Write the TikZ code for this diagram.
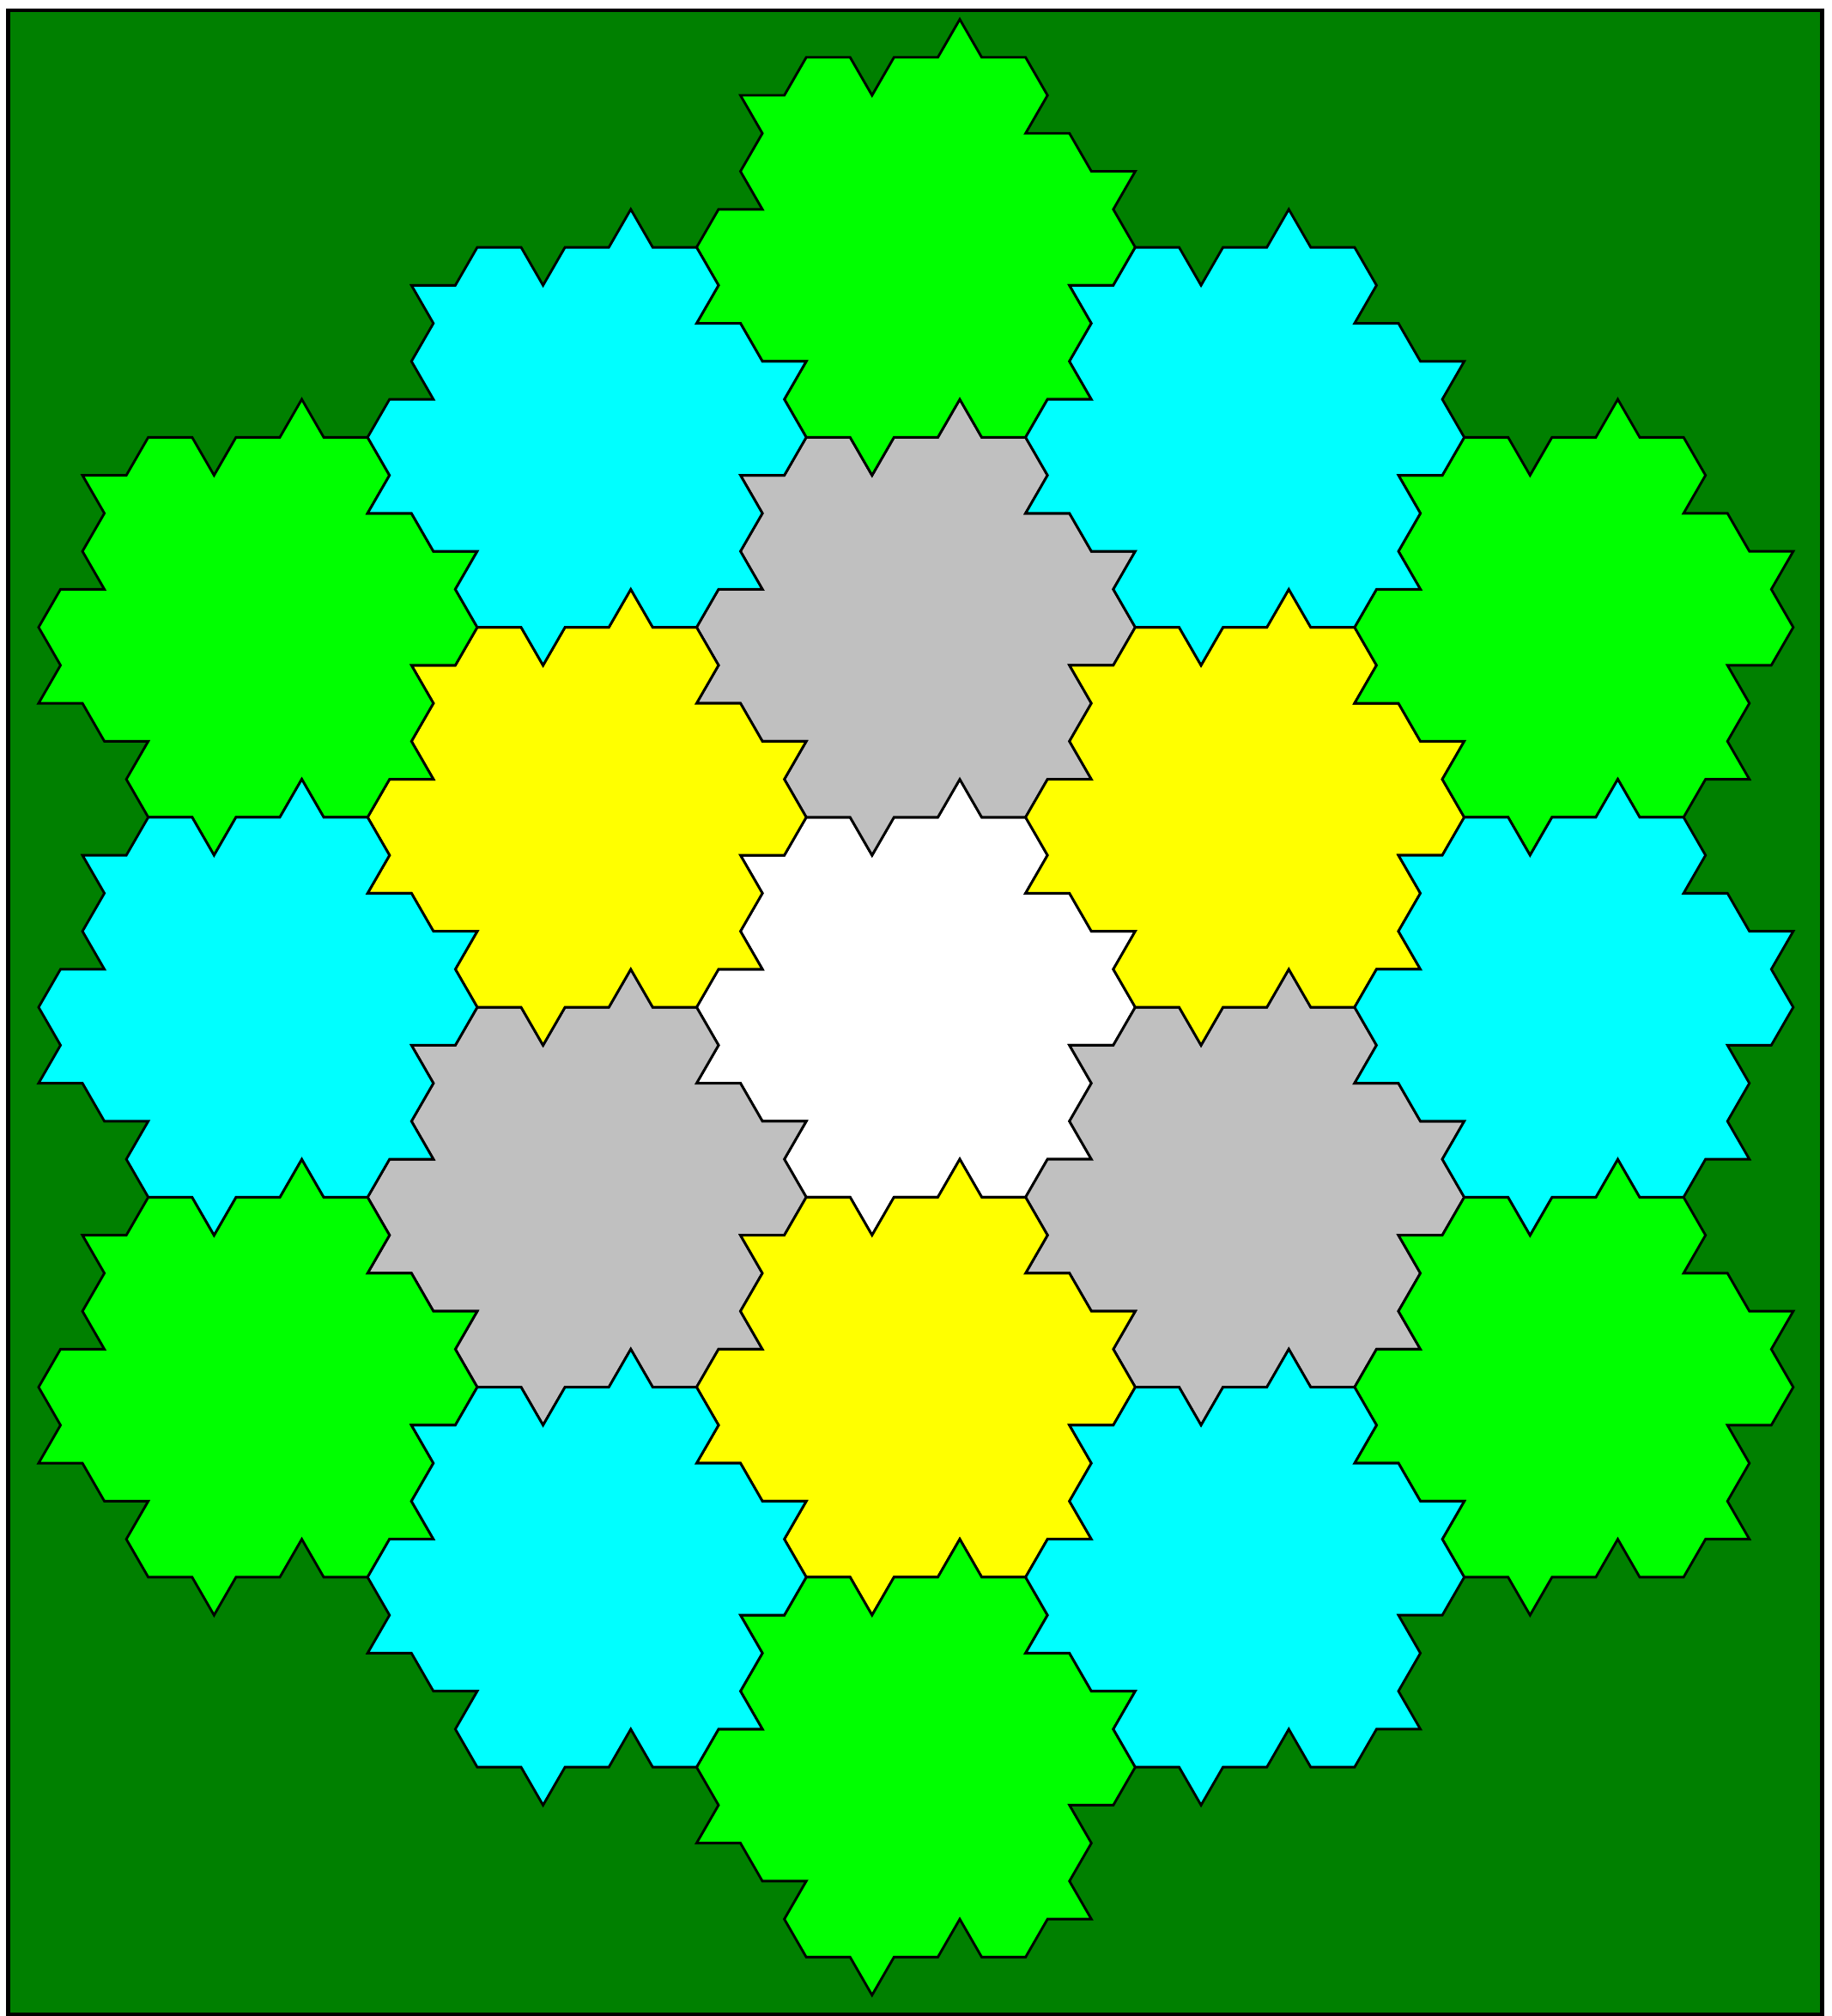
\documentclass[tikz,border=0pt]{standalone}
\usetikzlibrary{positioning}

\definecolor{bgdark}{RGB}{0,128,0}
\definecolor{tilelime}{RGB}{0,255,0}
\definecolor{tilecyan}{RGB}{0,255,255}
\definecolor{tileyellow}{RGB}{255,255,0}
\definecolor{tilegray}{RGB}{192,192,192}

\begin{document}
\begin{tikzpicture}[
    x=0.5cm, y=0.4330127cm,
    tile edge/.style={draw=black, line width=0.8pt, line join=miter},
    frame/.style={draw=black, line width=1.25pt},
    tile/.pic={
        \filldraw[tile edge, fill=#1]
            (-2.5,5) -- (-1.5,5) -- (-1,4) -- (-0.5,5) -- (0.5,5) -- (1,6) -- (1.5,5) -- (2.5,5)
            -- (3,4) -- (2.5,3) -- (3.5,3) -- (4,2) -- (5,2) -- (4.5,1) -- (5,0)
            -- (4.5,-1) -- (3.5,-1) -- (4,-2) -- (3.5,-3) -- (4,-4) -- (3,-4) -- (2.5,-5)
            -- (1.5,-5) -- (1,-4) -- (0.5,-5) -- (-0.5,-5) -- (-1,-6) -- (-1.5,-5) -- (-2.5,-5)
            -- (-3,-4) -- (-2.5,-3) -- (-3.5,-3) -- (-4,-2) -- (-5,-2) -- (-4.5,-1) -- (-5,0)
            -- (-4.5,1) -- (-3.5,1) -- (-4,2) -- (-3.5,3) -- (-4,4) -- (-3,4) -- cycle;
    }
]

% Bounding box
\useasboundingbox (-20.88,-26.55) rectangle (20.88,26.51);

% Background
\fill[bgdark] (-20.69,-26.51) rectangle (20.66,26.24);

% Centre tile
\pic at (0,0) {tile=white};

% First ring
\pic at (0,10) {tile=tilegray};
\pic at (-7.5,-5) {tile=tilegray};
\pic at (7.5,-5) {tile=tilegray};
\pic at (-7.5,5) {tile=tileyellow};
\pic at (7.5,5) {tile=tileyellow};
\pic at (0,-10) {tile=tileyellow};

% Second ring, corners
\pic at (0,20) {tile=tilelime};
\pic at (-15,10) {tile=tilelime};
\pic at (15,10) {tile=tilelime};
\pic at (-15,-10) {tile=tilelime};
\pic at (15,-10) {tile=tilelime};
\pic at (0,-20) {tile=tilelime};

% Second ring, sides
\pic at (-7.5,15) {tile=tilecyan};
\pic at (7.5,15) {tile=tilecyan};
\pic at (-15,0) {tile=tilecyan};
\pic at (15,0) {tile=tilecyan};
\pic at (-7.5,-15) {tile=tilecyan};
\pic at (7.5,-15) {tile=tilecyan};

% Frame
\draw[frame] (-20.69,-26.51) rectangle (20.66,26.24);

\end{tikzpicture}
\end{document}
